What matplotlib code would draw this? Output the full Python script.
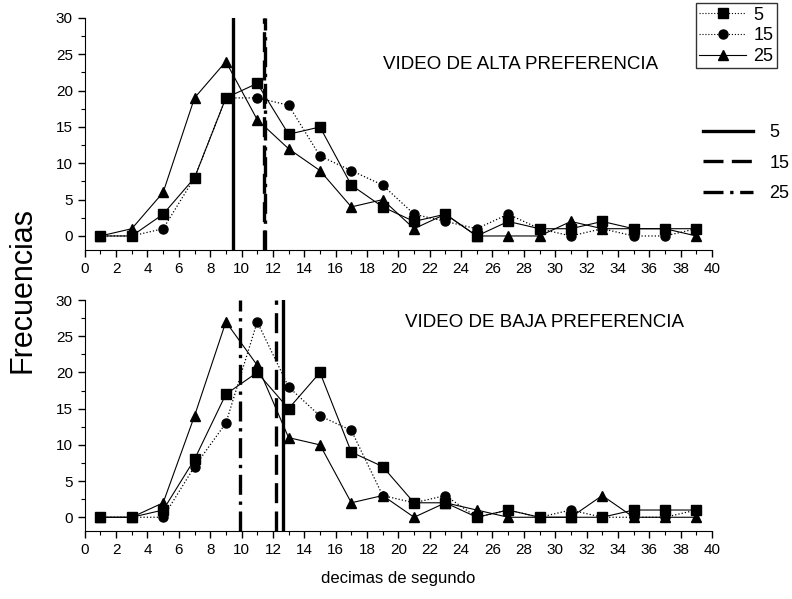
import numpy as np
import matplotlib
matplotlib.use("Agg")
import matplotlib.pyplot as plt
from matplotlib.lines import Line2D

plt.rcParams['font.family'] = ['Liberation Sans', 'DejaVu Sans']

# decimas de segundo (centro de cada intervalo)
x = [1, 3, 5, 7, 9, 11, 13, 15, 17, 19, 21, 23, 25, 27, 29, 31, 33, 35, 37, 39]

# video de alta preferencia
alta_5 = [0, 0, 3, 8, 19, 21, 14, 15, 7, 4, 2, 3, 0, 2, 1, 1, 2, 1, 1, 1]
alta_15 = [0, 0, 1, 8, 19, 19, 18, 11, 9, 7, 3, 2, 1, 3, 1, 0, 1, 0, 0, 1]
alta_25 = [0, 1, 6, 19, 24, 16, 12, 9, 4, 5, 1, 3, 0, 0, 0, 2, 1, 1, 1, 0]

# video de baja preferencia
baja_5 = [0, 0, 1, 8, 17, 20, 15, 20, 9, 7, 2, 2, 0, 1, 0, 0, 0, 1, 1, 1]
baja_15 = [0, 0, 0, 7, 13, 27, 18, 14, 12, 3, 2, 3, 0, 1, 0, 1, 0, 0, 0, 1]
baja_25 = [0, 0, 2, 14, 27, 21, 11, 10, 2, 3, 0, 2, 1, 0, 0, 0, 3, 0, 0, 0]

# medias (lineas verticales) para 5, 15, 25
grupos = ["5", "15", "25"]
alta_medias = [9.45, 11.4, 11.5]
baja_medias = [12.65, 12.2, 9.9]

fig = plt.figure(figsize=(7.92, 5.99), dpi=100)
ax1 = fig.add_axes([0.107, 0.583, 0.792, 0.387])
ax2 = fig.add_axes([0.107, 0.1135, 0.792, 0.3855])

estilos_v = [dict(ls="-", lw=2.4), dict(ls=(0, (6, 2.5)), lw=2.4), dict(ls=(0, (6, 2, 1, 2)), lw=2.4)]

def panel(ax, s5, s15, s25, medias, titulo, tx, ty):
    ax.plot(x, s5, color="black", lw=0.8, ls="-", marker="s", ms=6.5)
    ax.plot(x, s15, color="black", lw=0.9, ls=":", marker="o", ms=6.5)
    ax.plot(x, s25, color="black", lw=0.8, ls="-", marker="^", ms=7.5)
    for m, st in zip(medias, estilos_v):
        ax.axvline(m, color="black", **st)
    ax.set_xlim(0, 40)
    ax.set_ylim(-1.9, 30)
    ax.set_xticks(np.arange(0, 41, 2))
    ax.set_xticks(np.arange(0, 41, 1), minor=True)
    ax.set_yticks(np.arange(0, 31, 5))
    ax.set_yticks(np.arange(0, 31, 2.5), minor=True)
    ax.tick_params(which="major", direction="out", length=5, width=1, labelsize=11)
    ax.tick_params(which="minor", direction="out", length=3, width=0.8)
    ax.spines["top"].set_visible(False)
    ax.spines["right"].set_visible(False)
    ax.text(tx, ty, titulo, transform=ax.transAxes, fontsize=13.5, va="center")

panel(ax1, alta_5, alta_15, alta_25, alta_medias, "VIDEO DE ALTA PREFERENCIA", 0.475, 0.80)
panel(ax2, baja_5, baja_15, baja_25, baja_medias, "VIDEO DE BAJA PREFERENCIA", 0.51, 0.905)

ax2.set_xlabel("decimas de segundo", fontsize=12, labelpad=10)
fig.text(0.028, 0.516, "Frecuencias", rotation=90, fontsize=22, ha="center", va="center")

h1 = [Line2D([], [], color="black", lw=0.8, ls=":", marker="s", ms=6.5),
      Line2D([], [], color="black", lw=0.8, ls=":", marker="o", ms=6.5),
      Line2D([], [], color="black", lw=0.8, ls="-", marker="^", ms=7.5)]
leg1 = fig.legend(h1, grupos, loc="upper right", bbox_to_anchor=(0.981, 0.995),
                  frameon=True, fancybox=False, edgecolor="black", fontsize=13,
                  handlelength=2.6, borderpad=0.2, labelspacing=0.2, handletextpad=0.4,
                  borderaxespad=0)
leg1.get_frame().set_linewidth(1)

h2 = [Line2D([], [], color="black", **st) for st in estilos_v]
fig.legend(h2, grupos, loc="upper right", bbox_to_anchor=(1.006, 0.805),
           frameon=False, fontsize=13, handlelength=2.8, labelspacing=0.75,
           handletextpad=0.9, borderaxespad=0)

fig.savefig("out.png", dpi=100)
